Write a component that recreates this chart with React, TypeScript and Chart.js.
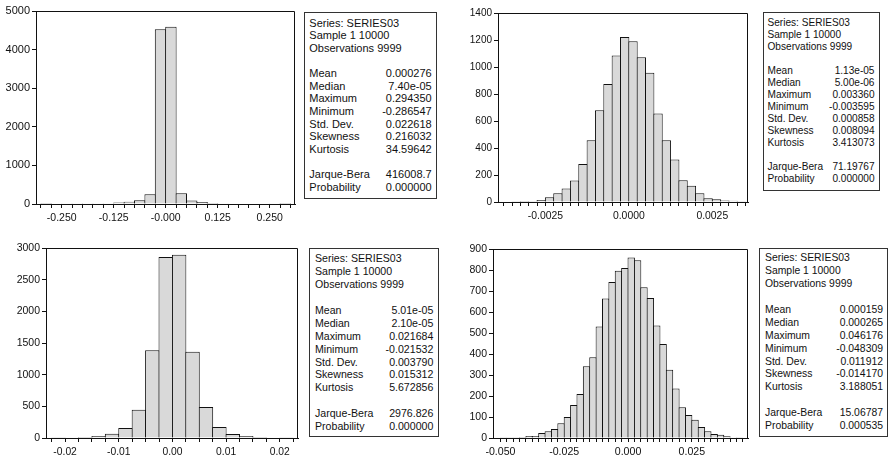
import React, { useEffect, useRef } from "react";
import { Chart, registerables } from "chart.js";

Chart.register(...registerables);

// ---------------- DATA ----------------
// Panel A (top-left)
const binStartA = -0.3;
const binWidthA = 0.025;
const countsA = [3, 0, 6, 5, 5, 4, 6, 40, 60, 95, 250, 4526, 4594, 276, 92, 50, 28, 20, 10, 10, 0, 0, 4, 3];
const yTicksA = [0, 1000, 2000, 3000, 4000, 5000];
const xLabelValuesA = [-0.25, -0.125, 0, 0.125, 0.25];
const xLabelTextsA = ["-0.250", "-0.125", "-0.000", "0.125", "0.250"];
const statsA = ["0.000276", "7.40e-05", "0.294350", "-0.286547", "0.022618", "0.216032", "34.59642"];
const testsA = ["416008.7", "0.000000"];

// Panel B (top-right)
const binStartB = -0.00375;
const binWidthB = 0.00025;
const countsB = [3, 5, 8, 5, 15, 35, 65, 100, 160, 282, 458, 680, 875, 1086, 1222, 1190, 1073, 957, 655, 458, 314, 161, 121, 64, 27, 20, 12, 10, 5];
const yTicksB = [0, 200, 400, 600, 800, 1000, 1200, 1400];
const xLabelValuesB = [-0.0025, 0, 0.0025];
const xLabelTextsB = ["-0.0025", "0.0000", "0.0025"];
const statsB = ["1.13e-05", "5.00e-06", "0.003360", "-0.003595", "0.000858", "0.008094", "3.413073"];
const testsB = ["71.19767", "0.000000"];

// Panel C (bottom-left)
const binStartC = -0.0225;
const binWidthC = 0.0025;
const countsC = [5, 12, 15, 30, 68, 158, 447, 1384, 2858, 2895, 1363, 489, 174, 63, 32, 16, 8, 5];
const yTicksC = [0, 500, 1000, 1500, 2000, 2500, 3000];
const xLabelValuesC = [-0.02, -0.01, 0, 0.01, 0.02];
const xLabelTextsC = ["-0.02", "-0.01", "0.00", "0.01", "0.02"];
const statsC = ["5.01e-05", "2.10e-05", "0.021684", "-0.021532", "0.003790", "0.015312", "5.672856"];
const testsC = ["2976.826", "0.000000"];

// Panel D (bottom-right)
const binStartD = -0.05;
const binWidthD = 0.0025;
const countsD = [3, 3, 3, 5, 10, 10, 24, 32, 43, 70, 100, 157, 209, 342, 385, 531, 664, 743, 797, 810, 860, 846, 718, 667, 536, 448, 325, 236, 147, 109, 87, 52, 32, 19, 16, 8, 4, 3];
const yTicksD = [0, 100, 200, 300, 400, 500, 600, 700, 800, 900];
const xLabelValuesD = [-0.05, -0.025, 0, 0.025];
const xLabelTextsD = ["-0.050", "-0.025", "0.000", "0.025"];
const statsD = ["0.000159", "0.000265", "0.046176", "-0.048309", "0.011912", "-0.014170", "3.188051"];
const testsD = ["15.06787", "0.000535"];

const HEADER = ["Series: SERIES03", "Sample 1 10000", "Observations 9999"];
const STAT_LABELS = ["Mean", "Median", "Maximum", "Minimum", "Std. Dev.", "Skewness", "Kurtosis"];
const TEST_LABELS = ["Jarque-Bera", "Probability"];

// ---------------- STYLE / LAYOUT ----------------
const FONT = '"Liberation Sans", Arial, Helvetica, sans-serif';
const INK = "#111111";

type HistCfg = {
  left: number; top: number; width: number; height: number;
  padTop: number; padRight: number; yAxisWidth: number; xAxisHeight: number;
  xMin: number; xMax: number; yMax: number; barPct: number;
  xFont: number; yFont: number;
  binStart: number; binWidth: number; counts: number[]; yTicks: number[];
  labelValues: number[]; labelTexts: string[];
};

const panels: HistCfg[] = [
  {
    left: 0, top: 0, width: 300, height: 225, padTop: 11, padRight: 5, yAxisWidth: 36, xAxisHeight: 21,
    xMin: -0.3118, xMax: 0.3108, yMax: 5000, barPct: 1.096, xFont: 10.5, yFont: 11,
    binStart: binStartA, binWidth: binWidthA, counts: countsA, yTicks: yTicksA,
    labelValues: xLabelValuesA, labelTexts: xLabelTextsA,
  },
  {
    left: 450, top: 0, width: 300, height: 225, padTop: 13, padRight: 2, yAxisWidth: 48, xAxisHeight: 23,
    xMin: -0.00392, xMax: 0.00357, yMax: 1400, barPct: 1.12, xFont: 10.4, yFont: 10,
    binStart: binStartB, binWidth: binWidthB, counts: countsB, yTicks: yTicksB,
    labelValues: xLabelValuesB, labelTexts: xLabelTextsB,
  },
  {
    left: 0, top: 225, width: 300, height: 236, padTop: 23, padRight: 2, yAxisWidth: 46, xAxisHeight: 23,
    xMin: -0.02356, xMax: 0.0234, yMax: 3000, barPct: 1.075, xFont: 10.3, yFont: 10.5,
    binStart: binStartC, binWidth: binWidthC, counts: countsC, yTicks: yTicksC,
    labelValues: xLabelValuesC, labelTexts: xLabelTextsC,
  },
  {
    left: 450, top: 225, width: 300, height: 236, padTop: 24, padRight: 2, yAxisWidth: 43, xAxisHeight: 23,
    xMin: -0.0529, xMax: 0.047, yMax: 900, barPct: 1.157, xFont: 10.6, yFont: 10.5,
    binStart: binStartD, binWidth: binWidthD, counts: countsD, yTicks: yTicksD,
    labelValues: xLabelValuesD, labelTexts: xLabelTextsD,
  },
];

// text row slots: 0..2 header, 3 blank, 4..10 stats, 11 blank, 12..13 tests
const ROW_SLOTS = [0, 1, 2, 4, 5, 6, 7, 8, 9, 10, 12, 13];

type BoxCfg = {
  left: number; top: number; width: number; height: number;
  padLeft: number; padRight: number; fontSize: number; firstRow: number; step: number;
  values: string[]; tests: string[];
};

const boxes: BoxCfg[] = [
  { left: 304, top: 12, width: 133, height: 187, padLeft: 4.3, padRight: 4.3, fontSize: 11, firstRow: 10.7, step: 12.6, values: statsA, tests: testsA },
  { left: 763, top: 12, width: 117, height: 179, padLeft: 3.5, padRight: 4.5, fontSize: 10.1, firstRow: 10.5, step: 12.0, values: statsB, tests: testsB },
  { left: 309, top: 248, width: 130, height: 189, padLeft: 5, padRight: 4.7, fontSize: 10.6, firstRow: 10.3, step: 12.9, values: statsC, tests: testsC },
  { left: 759, top: 248, width: 129, height: 189, padLeft: 5, padRight: 4, fontSize: 10.4, firstRow: 10.3, step: 12.9, values: statsD, tests: testsD },
];

const framePlugin = {
  id: "frame",
  afterDraw(chart: any) {
    const { ctx, chartArea: a } = chart;
    const l = Math.round(a.left) + 0.5;
    const t = Math.round(a.top) + 0.5;
    const r = Math.round(a.right) - 0.5;
    const b = Math.round(a.bottom);
    ctx.save();
    ctx.strokeStyle = INK;
    ctx.lineWidth = 1;
    ctx.beginPath();
    ctx.moveTo(l, t);
    ctx.lineTo(r, t);
    ctx.lineTo(r, b);
    ctx.stroke();
    ctx.restore();
  },
};

function Histogram({ cfg }: { cfg: HistCfg }) {
  const ref = useRef<HTMLCanvasElement>(null);
  useEffect(() => {
    if (!ref.current) return;
    const n = cfg.counts.length;
    const edges: number[] = [];
    for (let i = 0; i <= n; i++) edges.push(cfg.binStart + i * cfg.binWidth);
    const data = cfg.counts.map((c, i) => ({ x: cfg.binStart + (i + 0.5) * cfg.binWidth, y: c }));
    const tol = cfg.binWidth / 10;
    const chart = new Chart(ref.current, {
      type: "bar",
      data: {
        datasets: [
          {
            data,
            backgroundColor: "#d9d9d9",
            borderColor: INK,
            borderWidth: 1,
            barPercentage: cfg.barPct,
            categoryPercentage: 1,
            inflateAmount: 0,
          } as any,
        ],
      },
      options: {
        animation: false,
        responsive: false,
        maintainAspectRatio: false,
        layout: { padding: { top: cfg.padTop, right: cfg.padRight, left: 0, bottom: 0 } },
        plugins: { legend: { display: false }, tooltip: { enabled: false } },
        scales: {
          x: {
            type: "linear",
            min: cfg.xMin,
            max: cfg.xMax,
            offset: false,
            afterBuildTicks: (axis: any) => {
              axis.ticks = edges.map((v) => ({ value: v }));
            },
            afterFit: (axis: any) => {
              axis.height = cfg.xAxisHeight;
            },
            ticks: {
              autoSkip: false,
              maxRotation: 0,
              minRotation: 0,
              padding: 4,
              color: INK,
              font: { family: FONT, size: cfg.xFont },
              callback: (value: any) => {
                const k = cfg.labelValues.findIndex((v) => Math.abs(v - Number(value)) < tol);
                return k >= 0 ? cfg.labelTexts[k] : "";
              },
            },
            grid: { drawOnChartArea: false, drawTicks: true, tickLength: 4, tickColor: INK, offset: false },
            border: { display: true, color: INK, width: 1 },
          } as any,
          y: {
            type: "linear",
            min: 0,
            max: cfg.yMax,
            afterBuildTicks: (axis: any) => {
              axis.ticks = cfg.yTicks.map((v) => ({ value: v }));
            },
            afterFit: (axis: any) => {
              axis.width = cfg.yAxisWidth;
            },
            ticks: {
              padding: 2,
              color: INK,
              font: { family: FONT, size: cfg.yFont },
              callback: (value: any) => String(value),
            },
            grid: { drawOnChartArea: false, drawTicks: true, tickLength: 4, tickColor: INK },
            border: { display: true, color: INK, width: 1 },
          } as any,
        },
      },
      plugins: [framePlugin],
    });
    return () => chart.destroy();
  }, [cfg]);
  return (
    <canvas
      ref={ref}
      width={cfg.width}
      height={cfg.height}
      style={{ position: "absolute", left: cfg.left, top: cfg.top, width: cfg.width, height: cfg.height }}
    />
  );
}

function StatsBox({ b }: { b: BoxCfg }) {
  const lineH = 12;
  const items: { label: string; value: string }[] = [
    ...HEADER.map((h) => ({ label: h, value: "" })),
    ...STAT_LABELS.map((l, i) => ({ label: l, value: b.values[i] })),
    ...TEST_LABELS.map((l, i) => ({ label: l, value: b.tests[i] })),
  ];
  return (
    <div
      style={{
        position: "absolute",
        left: b.left,
        top: b.top,
        width: b.width,
        height: b.height,
        boxSizing: "border-box",
        border: "1px solid #333",
        fontFamily: FONT,
        fontSize: b.fontSize,
        color: INK,
        background: "#fff",
      }}
    >
      {items.map((it, i) => (
        <div
          key={it.label}
          style={{
            position: "absolute",
            left: b.padLeft,
            right: b.padRight,
            top: b.firstRow + ROW_SLOTS[i] * b.step - lineH / 2 - 1,
            height: lineH,
            lineHeight: lineH + "px",
            display: "flex",
            justifyContent: "space-between",
            whiteSpace: "nowrap",
          }}
        >
          <span>{it.label}</span>
          <span>{it.value}</span>
        </div>
      ))}
    </div>
  );
}

export default function App() {
  return (
    <div
      style={{
        position: "fixed",
        left: 0,
        top: 0,
        width: 890,
        height: 461,
        background: "#ffffff",
        overflow: "hidden",
      }}
    >
      {panels.map((p, i) => (
        <Histogram key={i} cfg={p} />
      ))}
      {boxes.map((b, i) => (
        <StatsBox key={i} b={b} />
      ))}
    </div>
  );
}
